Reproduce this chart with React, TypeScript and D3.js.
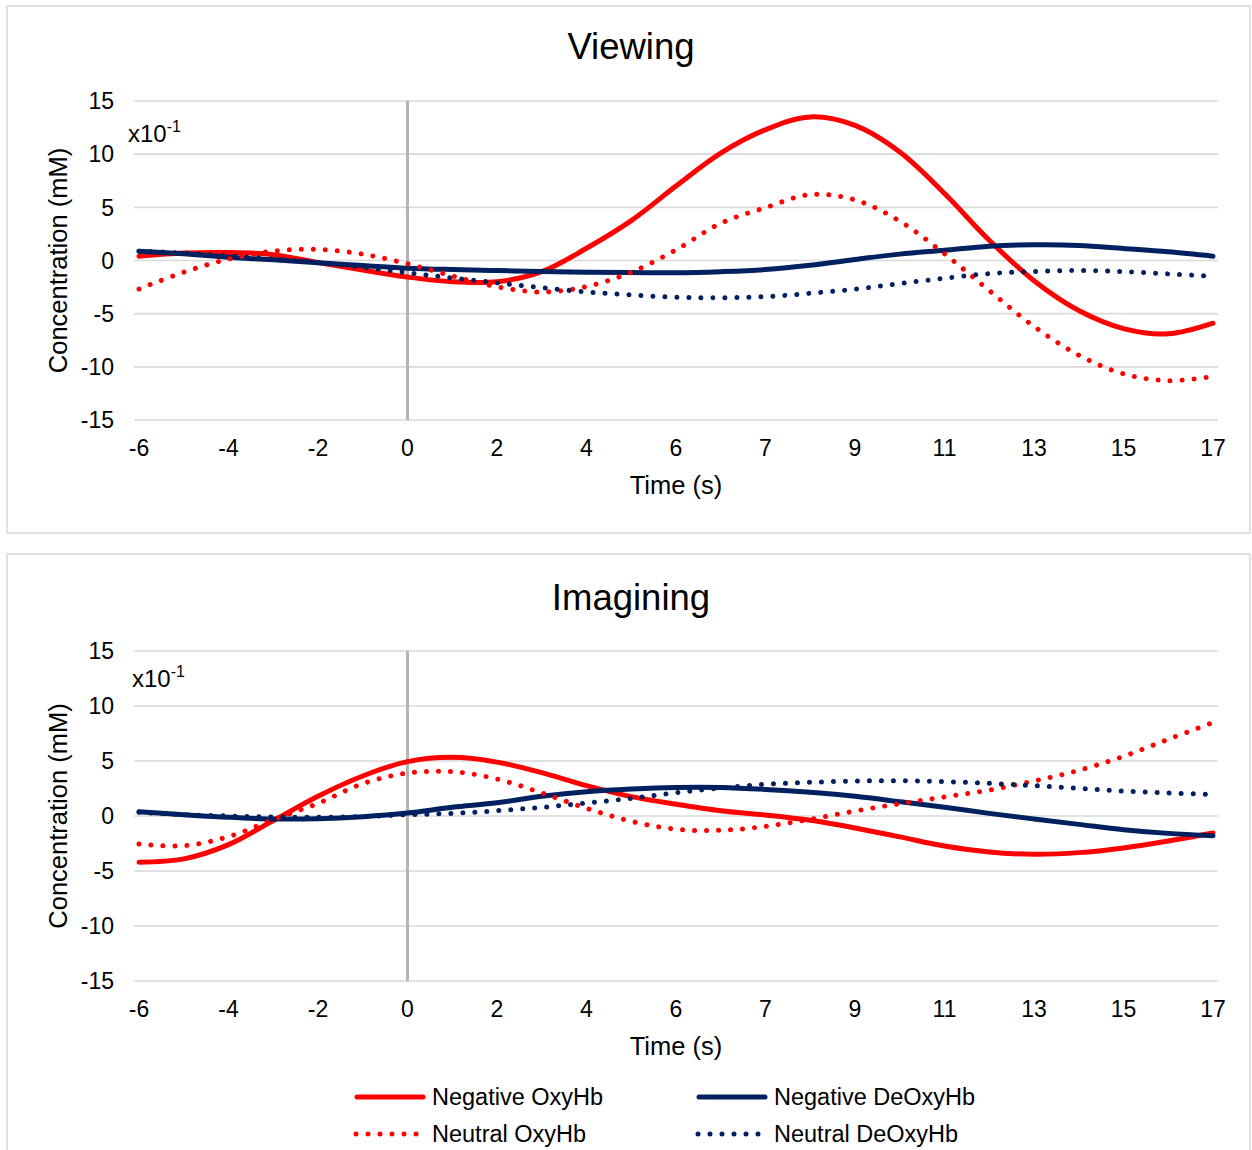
import React from "react";
import * as d3 from "d3";

// Category labels along the time axis (seconds)
const timeLabels = ["-6", "-4", "-2", "0", "2", "4", "6", "7", "9", "11", "13", "15", "17"];
const yTickValues = [15, 10, 5, 0, -5, -10, -15];
// Sample positions, in label steps (every half label)
const samplePositions = d3.range(0, 12.5, 0.5);
const onsetPosition = 3; // the "0" label

// Viewing (x10^-1 mM)
const viewingNegOxy = [0.4, 0.7, 0.75, 0.55, -0.2, -0.9, -1.55, -2.0, -2.0, -1.05, 1.15, 3.75, 7.0, 10.1, 12.3, 13.5, 12.7, 10.2, 6.3, 1.9, -1.9, -4.7, -6.4, -6.9, -5.9];
const viewingNegDeoxy = [0.88, 0.63, 0.31, 0.06, -0.22, -0.47, -0.72, -0.85, -0.94, -1.04, -1.1, -1.13, -1.16, -1.05, -0.85, -0.45, 0.1, 0.6, 0.97, 1.35, 1.48, 1.42, 1.13, 0.82, 0.41];
const viewingNeuOxy = [-2.67, -1.1, 0.13, 0.88, 1.04, 0.6, -0.31, -1.45, -2.48, -2.96, -2.45, -1.1, 1.0, 3.5, 4.97, 6.2, 5.7, 3.7, 0.63, -2.83, -6.2, -8.9, -10.66, -11.3, -10.9];
const viewingNeuDeoxy = [0.88, 0.7, 0.44, 0.13, -0.19, -0.63, -1.15, -1.64, -2.1, -2.55, -2.96, -3.24, -3.46, -3.5, -3.4, -3.08, -2.7, -2.17, -1.67, -1.23, -1.03, -0.94, -1.04, -1.26, -1.48];

// Imagining (x10^-1 mM)
const imaginingNegOxy = [-4.2, -3.9, -2.6, -0.42, 1.8, 3.64, 4.94, 5.33, 4.9, 3.94, 2.76, 1.76, 1.07, 0.48, 0.09, -0.39, -1.09, -1.9, -2.73, -3.27, -3.48, -3.33, -2.9, -2.27, -1.55];
const imaginingNegDeoxy = [0.39, 0.12, -0.12, -0.27, -0.24, -0.06, 0.27, 0.79, 1.2, 1.79, 2.2, 2.45, 2.6, 2.6, 2.42, 2.15, 1.79, 1.3, 0.79, 0.24, -0.27, -0.76, -1.24, -1.58, -1.79];
const imaginingNeuOxy = [-2.55, -2.7, -1.88, -0.33, 1.15, 2.94, 3.9, 4.03, 3.36, 2.1, 0.7, -0.48, -1.2, -1.3, -0.94, -0.3, 0.45, 1.12, 1.73, 2.36, 3.18, 4.15, 5.42, 6.97, 8.5];
const imaginingNeuDeoxy = [0.33, 0.12, 0.0, -0.09, -0.12, -0.06, 0.12, 0.24, 0.48, 0.79, 1.18, 1.6, 2.12, 2.55, 2.88, 3.06, 3.18, 3.21, 3.12, 2.97, 2.76, 2.52, 2.27, 2.09, 1.97];

const seriesNames = ["Negative OxyHb", "Negative DeOxyHb", "Neutral OxyHb", "Neutral DeOxyHb"];

const RED = "#FF0000";
const NAVY = "#002060";
const GRID = "#d9d9d9";
const FONT = "'Liberation Sans', Arial, sans-serif";

const seriesStyles = [
  { color: RED, dotted: false },
  { color: NAVY, dotted: false },
  { color: RED, dotted: true },
  { color: NAVY, dotted: true },
];

const LINE_W = 5;
const DOT_W = 5;
const DOTS = "0.001 12";

type PanelProps = {
  title: string;
  values: number[][];
  frameTop: number;
  frameBottom: number;
  plotTop: number;
  plotBottom: number;
  titleBaseline: number;
  xTickBaseline: number;
  xTitleBaseline: number;
  unitX: number;
  unitBaseline: number;
};

function Panel(p: PanelProps) {
  const x = d3.scaleLinear().domain([0, timeLabels.length - 1]).range([139, 1213]);
  const y = d3.scaleLinear().domain([-15, 15]).range([p.plotBottom, p.plotTop]);
  const line = d3
    .line<number>()
    .x((_, i) => x(samplePositions[i]))
    .y((v) => y(v))
    .curve(d3.curveCatmullRom.alpha(0.5));
  const gridLeft = 134;
  const gridRight = 1218;
  const yMid = (p.plotTop + p.plotBottom) / 2;

  return (
    <g>
      <rect
        x={7}
        y={p.frameTop}
        width={1243}
        height={p.frameBottom - p.frameTop}
        fill="#fff"
        stroke={GRID}
        strokeWidth={1.5}
      />
      <text x={631} y={p.titleBaseline} textAnchor="middle" fontSize={36.5} fontFamily={FONT} fill="#000">
        {p.title}
      </text>
      {yTickValues.map((v) => (
        <g key={v}>
          <line x1={gridLeft} x2={gridRight} y1={y(v)} y2={y(v)} stroke={GRID} strokeWidth={1.6} />
          <text x={114} y={y(v)} dy="0.36em" textAnchor="end" fontSize={23} fontFamily={FONT} fill="#000">
            {v}
          </text>
        </g>
      ))}
      {timeLabels.map((t, i) => (
        <text key={t} x={x(i)} y={p.xTickBaseline} textAnchor="middle" fontSize={23} fontFamily={FONT} fill="#000">
          {t}
        </text>
      ))}
      <text x={676} y={p.xTitleBaseline} textAnchor="middle" fontSize={25.5} fontFamily={FONT} fill="#000">
        Time (s)
      </text>
      <text
        transform={`translate(58,${yMid}) rotate(-90)`}
        textAnchor="middle"
        dy="0.35em"
        fontSize={25.5}
        fontFamily={FONT}
        fill="#000"
      >
        Concentration (mM)
      </text>
      <text x={p.unitX} y={p.unitBaseline} fontSize={24} fontFamily={FONT} fill="#000">
        x10
        <tspan dy={-10} fontSize={16}>
          -1
        </tspan>
      </text>
      <line
        x1={x(onsetPosition)}
        x2={x(onsetPosition)}
        y1={y(15)}
        y2={y(-15)}
        stroke="#b4b4b4"
        strokeWidth={3}
      />
      {p.values.map((vals, k) => (
        <path
          key={seriesNames[k]}
          d={line(vals) ?? ""}
          fill="none"
          stroke={seriesStyles[k].color}
          strokeWidth={seriesStyles[k].dotted ? DOT_W : LINE_W}
          strokeLinecap="round"
          strokeLinejoin="round"
          strokeDasharray={seriesStyles[k].dotted ? DOTS : undefined}
        />
      ))}
    </g>
  );
}

function Legend() {
  const cols = [355, 697];
  const rows = [1097, 1134];
  return (
    <g>
      {seriesNames.map((name, k) => {
        const cx = cols[k % 2];
        const cy = rows[Math.floor(k / 2)];
        const st = seriesStyles[k];
        return (
          <g key={name}>
            <line
              x1={st.dotted ? cx + 1 : cx + 2}
              x2={st.dotted ? cx + 62 : cx + 68}
              y1={cy}
              y2={cy}
              stroke={st.color}
              strokeWidth={st.dotted ? DOT_W : LINE_W}
              strokeLinecap="round"
              strokeDasharray={st.dotted ? DOTS : undefined}
            />
            <text x={cx + 77} y={cy} dy="0.36em" fontSize={23.5} fontFamily={FONT} fill="#000">
              {name}
            </text>
          </g>
        );
      })}
    </g>
  );
}

export default function App() {
  return (
    <svg
      width={1252}
      height={1150}
      style={{ position: "absolute", left: 0, top: 0, background: "#fff" }}
    >
      <rect width={1252} height={1150} fill="#fff" />
      <Panel
        title="Viewing"
        values={[viewingNegOxy, viewingNegDeoxy, viewingNeuOxy, viewingNeuDeoxy]}
        frameTop={6}
        frameBottom={533}
        plotTop={101}
        plotBottom={420}
        titleBaseline={59}
        xTickBaseline={456}
        xTitleBaseline={494}
        unitX={128}
        unitBaseline={142}
      />
      <Panel
        title="Imagining"
        values={[imaginingNegOxy, imaginingNegDeoxy, imaginingNeuOxy, imaginingNeuDeoxy]}
        frameTop={554}
        frameBottom={1170}
        plotTop={651}
        plotBottom={981}
        titleBaseline={610}
        xTickBaseline={1017}
        xTitleBaseline={1055}
        unitX={132}
        unitBaseline={687}
      />
      <Legend />
    </svg>
  );
}
